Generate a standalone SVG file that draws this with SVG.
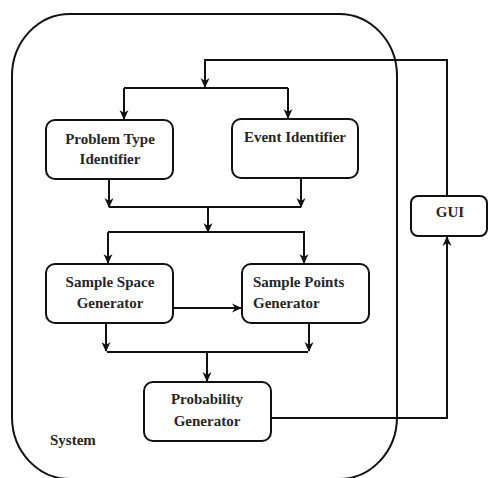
<svg xmlns="http://www.w3.org/2000/svg" width="488" height="478" viewBox="0 0 488 478">
<defs>
<style>
.box{fill:#fff;stroke:#111;stroke-width:2}
.frame{fill:none;stroke:#111;stroke-width:2}
.c{fill:none;stroke:#111;stroke-width:2}
text{font-family:'Liberation Serif','Times New Roman',Times,serif;font-weight:700;font-size:15px;fill:#262626}
</style>
<marker id="ah" viewBox="0 0 10 10" refX="9" refY="5" markerWidth="10" markerHeight="10" markerUnits="userSpaceOnUse" orient="auto">
<path d="M0,0.5 L10,5 L0,9.5 L3,5 z" fill="#111"/>
</marker>
</defs>
<rect width="488" height="478" fill="#fff"/>
<g id="system">
<rect class="frame" x="12" y="14" width="385" height="465" rx="58" ry="62"/>
<text x="50" y="445">System</text>
</g>
<g id="connectors">
<path class="c" d="M447,196 V60 H205 V87" marker-end="url(#ah)"/>
<path class="c" d="M124,88 H288"/>
<path class="c" d="M124,88 V119" marker-end="url(#ah)"/>
<path class="c" d="M288,88 V118" marker-end="url(#ah)"/>
<path class="c" d="M109,179 V207" marker-end="url(#ah)"/>
<path class="c" d="M301,178 V207" marker-end="url(#ah)"/>
<path class="c" d="M109,207 H301"/>
<path class="c" d="M208,207 V232" marker-end="url(#ah)"/>
<path class="c" d="M108,232 H305"/>
<path class="c" d="M108,232 V263" marker-end="url(#ah)"/>
<path class="c" d="M304,232 V263" marker-end="url(#ah)"/>
<path class="c" d="M173,308 H241" marker-end="url(#ah)"/>
<path class="c" d="M106,323 V351" marker-end="url(#ah)"/>
<path class="c" d="M309,323 V351" marker-end="url(#ah)"/>
<path class="c" d="M107,352 H308"/>
<path class="c" d="M207,352 V381" marker-end="url(#ah)"/>
<path class="c" d="M271,418 H447 V237" marker-end="url(#ah)"/>
</g>
<g id="problem-type-identifier">
<rect class="box" x="46" y="120" width="127" height="59" rx="9"/>
<text x="110" y="144" text-anchor="middle">Problem Type</text>
<text x="110" y="164" text-anchor="middle">Identifier</text>
</g>
<g id="event-identifier">
<rect class="box" x="232" y="119" width="126" height="59" rx="9"/>
<text x="295" y="142" text-anchor="middle">Event Identifier</text>
</g>
<g id="sample-space-generator">
<rect class="box" x="46" y="264" width="127" height="59" rx="9"/>
<text x="110" y="287" text-anchor="middle">Sample Space</text>
<text x="110" y="308" text-anchor="middle">Generator</text>
</g>
<g id="sample-points-generator">
<rect class="box" x="242" y="264" width="127" height="59" rx="9"/>
<text x="253" y="287">Sample Points</text>
<text x="253" y="308">Generator</text>
</g>
<g id="probability-generator">
<rect class="box" x="144" y="382" width="127" height="59" rx="9"/>
<text x="207" y="404" text-anchor="middle">Probability</text>
<text x="207" y="426" text-anchor="middle">Generator</text>
</g>
<g id="gui">
<rect class="box" x="411" y="196" width="76" height="40" rx="7"/>
<text x="450" y="217" text-anchor="middle">GUI</text>
</g>
</svg>
